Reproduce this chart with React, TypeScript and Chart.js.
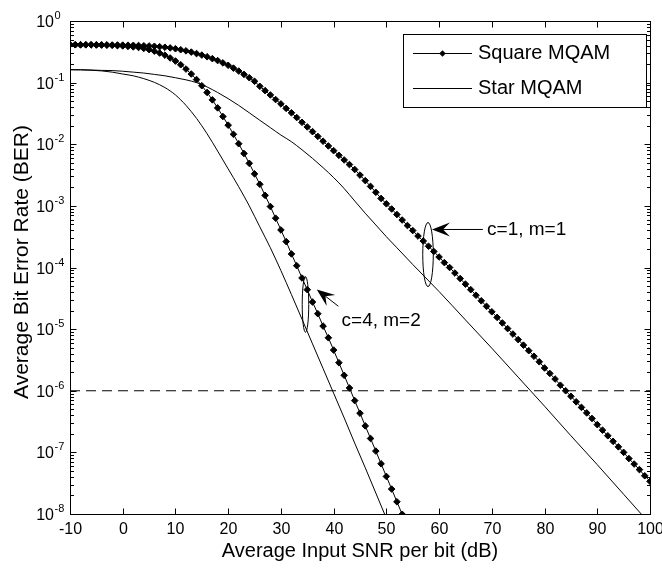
import React, { useEffect, useRef } from 'react';
import { Chart, registerables } from 'chart.js';

Chart.register(...registerables);

// ---------- data ----------
const squareC1Snr = [
  -10, -9, -8, -7, -6, -5, -4, -3, -2, -1,
  0, 1, 2, 3, 4, 5, 6, 7, 8, 9,
  10, 11, 12, 13, 14, 15, 16, 17, 18, 19,
  20, 21, 22, 23, 24, 25, 26, 27, 28, 29,
  30, 31, 32, 33, 34, 35, 36, 37, 38, 39,
  40, 41, 42, 43, 44, 45, 46, 47, 48, 49,
  50, 51, 52, 53, 54, 55, 56, 57, 58, 59,
  60, 61, 62, 63, 64, 65, 66, 67, 68, 69,
  70, 71, 72, 73, 74, 75, 76, 77, 78, 79,
  80, 81, 82, 83, 84, 85, 86, 87, 88, 89,
  90, 91, 92, 93, 94, 95, 96, 97, 98, 99,
  100,
];
const squareC1Ber = [
  0.412, 0.412, 0.412, 0.411, 0.411, 0.41, 0.41, 0.409, 0.408, 0.407,
  0.406, 0.405, 0.403, 0.4, 0.397, 0.394, 0.389, 0.383, 0.375, 0.366,
  0.355, 0.342, 0.328, 0.313, 0.296, 0.28, 0.263, 0.245, 0.228, 0.209,
  0.191, 0.172, 0.154, 0.136, 0.12, 0.105, 8.71e-2, 7.41e-2, 6.31e-2, 5.31e-2,
  4.52e-2, 3.82e-2, 3.24e-2, 2.71e-2, 2.27e-2, 1.91e-2, 1.6e-2, 1.34e-2, 1.12e-2, 9.38e-3,
  7.87e-3, 6.61e-3, 5.56e-3, 4.68e-3, 3.89e-3, 3.16e-3, 2.57e-3, 2.07e-3, 1.66e-3, 1.32e-3,
  1.08e-3, 8.91e-4, 7.24e-4, 5.89e-4, 4.79e-4, 3.98e-4, 3.24e-4, 2.69e-4, 2.21e-4, 1.82e-4,
  1.48e-4, 1.2e-4, 1.0e-4, 8.13e-5, 6.61e-5, 5.37e-5, 4.37e-5, 3.55e-5, 2.88e-5, 2.34e-5,
  1.91e-5, 1.55e-5, 1.26e-5, 1.02e-5, 8.32e-6, 6.76e-6, 5.5e-6, 4.47e-6, 3.63e-6, 2.95e-6,
  2.34e-6, 1.91e-6, 1.55e-6, 1.23e-6, 1.0e-6, 8.13e-7, 6.61e-7, 5.37e-7, 4.37e-7, 3.55e-7,
  2.82e-7, 2.29e-7, 1.86e-7, 1.51e-7, 1.23e-7, 1.0e-7, 7.94e-8, 6.46e-8, 5.25e-8, 4.17e-8,
  3.39e-8,
];

const squareC4Snr = [
  -10, -9, -8, -7, -6, -5, -4, -3, -2, -1,
  0, 1, 2, 3, 4, 5, 6, 7, 8, 9,
  10, 11, 12, 13, 14, 15, 16, 17, 18, 19,
  20, 21, 22, 23, 24, 25, 26, 27, 28, 29,
  30, 31, 32, 33, 34, 35, 36, 37, 38, 39,
  40, 41, 42, 43, 44, 45, 46, 47, 48, 49,
  50, 51, 52, 53,
];
const squareC4Ber = [
  0.412, 0.412, 0.411, 0.411, 0.41, 0.409, 0.407, 0.406, 0.403, 0.398,
  0.394, 0.387, 0.38, 0.372, 0.359, 0.343, 0.324, 0.302, 0.279, 0.251,
  0.224, 0.195, 0.166, 0.138, 0.112, 8.91e-2, 6.92e-2, 5.25e-2, 3.89e-2, 2.82e-2,
  2.04e-2, 1.45e-2, 1.02e-2, 7.08e-3, 4.9e-3, 3.31e-3, 2.24e-3, 1.48e-3, 9.77e-4, 6.31e-4,
  4.07e-4, 2.63e-4, 1.66e-4, 1.07e-4, 6.76e-5, 4.37e-5, 2.75e-5, 1.78e-5, 1.12e-5, 7.24e-6,
  4.57e-6, 2.85e-6, 1.78e-6, 1.11e-6, 6.92e-7, 4.32e-7, 2.69e-7, 1.68e-7, 1.05e-7, 6.53e-8,
  4.07e-8, 2.54e-8, 1.58e-8, 9.9e-9,
];

const starC1Snr = [
  -10, -8, -6, -4, -2, 0, 2, 4, 6, 8, 10, 12, 14, 16, 18, 20, 22, 24, 26, 28, 30,
  32, 34, 36, 38, 40, 42, 44, 46, 48, 50, 52, 55, 60, 65, 70, 75, 80, 85, 90, 95, 100,
];
const starC1Ber = [
  0.162, 0.162, 0.16, 0.158, 0.157, 0.153, 0.148, 0.143, 0.136, 0.129, 0.12, 0.111, 0.1,
  8.51e-2, 6.92e-2, 5.5e-2, 4.27e-2, 3.24e-2, 2.45e-2, 1.86e-2, 1.41e-2,
  1.1e-2, 8.13e-3, 5.89e-3, 4.17e-3, 2.88e-3, 1.91e-3, 1.2e-3, 7.59e-4, 4.9e-4, 3.16e-4,
  2.09e-4, 1.12e-4, 4.07e-5, 1.41e-5, 4.9e-6, 1.66e-6, 5.62e-7, 1.86e-7, 6.31e-8, 2.09e-8, 6.92e-9,
];

const starC4Snr = [
  -10, -8, -6, -4, -2, 0, 2, 4, 6, 8, 10, 12, 14, 16, 18, 20, 22, 24, 26, 28, 30,
  32, 34, 36, 38, 40, 42, 44, 46, 48, 50,
];
const starC4Ber = [
  0.162, 0.161, 0.159, 0.155, 0.148, 0.138, 0.129, 0.116, 0.101, 8.32e-2, 6.31e-2,
  4.27e-2, 2.63e-2, 1.48e-2, 7.76e-3, 3.98e-3, 2.04e-3, 1.0e-3, 4.57e-4, 2.09e-4, 8.91e-5,
  3.63e-5, 1.45e-5, 5.75e-6, 2.29e-6, 9.12e-7, 3.63e-7, 1.41e-7, 5.62e-8, 2.19e-8, 8.51e-9,
];

const targetSnr = [-10, 100];
const targetBer = [1e-6, 1e-6];

const xTickValues = [-10, 0, 10, 20, 30, 40, 50, 60, 70, 80, 90, 100];
const yDecadeExponents = [0, -1, -2, -3, -4, -5, -6, -7, -8];
const legendLabels = ['Square MQAM', 'Star MQAM'];
const xAxisTitle = 'Average Input SNR per bit (dB)';
const yAxisTitle = 'Average Bit Error Rate (BER)';

// annotation anchors (in data units)
const annotationC1 = {
  label: 'c=1, m=1',
  ellipseSnr: 57.9, ellipseTop: 5.37e-4, ellipseBottom: 4.9e-5, ellipseHalfWidthDb: 1.0,
  arrowFromSnr: 68.3, arrowFromBer: 4.14e-4, arrowToSnr: 58.65, arrowToBer: 4.14e-4,
  textSnr: 69.1, textBer: 4.14e-4,
};
const annotationC4 = {
  label: 'c=4, m=2',
  ellipseSnr: 34.66, ellipseTop: 7.1e-5, ellipseBottom: 8.9e-6, ellipseHalfWidthDb: 0.62,
  arrowFromSnr: 40.9, arrowFromBer: 2.35e-5, arrowToSnr: 36.8, arrowToBer: 4.4e-5,
  textSnr: 41.5, textBer: 1.35e-5,
};

// ---------- helpers ----------
const FONT = '"Liberation Sans", Arial, Helvetica, sans-serif';
const zip = (xs: number[], ys: number[]) => xs.map((x, i) => ({ x, y: ys[i] }));

function drawArrow(ctx: CanvasRenderingContext2D, x1: number, y1: number, x2: number, y2: number) {
  const ang = Math.atan2(y2 - y1, x2 - x1);
  const headLen = 18;
  const headHalf = 7;
  const notch = 11;
  const ux = Math.cos(ang), uy = Math.sin(ang);
  const px = -uy, py = ux;
  ctx.beginPath();
  ctx.moveTo(x1, y1);
  ctx.lineTo(x2 - ux * notch, y2 - uy * notch);
  ctx.stroke();
  ctx.beginPath();
  ctx.moveTo(x2, y2);
  ctx.lineTo(x2 - ux * headLen + px * headHalf, y2 - uy * headLen + py * headHalf);
  ctx.lineTo(x2 - ux * notch, y2 - uy * notch);
  ctx.lineTo(x2 - ux * headLen - px * headHalf, y2 - uy * headLen - py * headHalf);
  ctx.closePath();
  ctx.fill();
}

const decorPlugin = {
  id: 'matlabDecor',
  afterDraw(chart: any) {
    const { ctx, chartArea: a, scales } = chart;
    const xs = scales.x;
    const ys = scales.y;
    ctx.save();
    ctx.strokeStyle = '#000';
    ctx.fillStyle = '#000';
    ctx.lineWidth = 1;

    const L = Math.round(a.left) + 0.5;
    const R = Math.round(a.right) + 0.5;
    const T = Math.round(a.top) + 0.5;
    const B = Math.round(a.bottom) + 0.5;
    const seg = (x1: number, y1: number, x2: number, y2: number) => {
      ctx.beginPath();
      ctx.moveTo(x1, y1);
      ctx.lineTo(x2, y2);
      ctx.stroke();
    };

    // x ticks + labels
    ctx.font = `16px ${FONT}`;
    ctx.textAlign = 'center';
    ctx.textBaseline = 'middle';
    for (const v of xTickValues) {
      const px = Math.round(xs.getPixelForValue(v)) + 0.5;
      seg(px, B, px, B - 6);
      seg(px, T, px, T + 6);
      ctx.fillText(String(v), px, B + 15);
    }

    // y ticks (major + minor) + labels
    for (const e of yDecadeExponents) {
      const py = Math.round(ys.getPixelForValue(Math.pow(10, e))) + 0.5;
      seg(L, py, L + 6, py);
      seg(R, py, R - 6, py);
      if (e > -8) {
        for (let m = 2; m <= 9; m++) {
          const my = Math.round(ys.getPixelForValue(m * Math.pow(10, e - 1))) + 0.5;
          seg(L, my, L + 3.5, my);
          seg(R, my, R - 3.5, my);
        }
      }
      ctx.font = `16px ${FONT}`;
      ctx.textAlign = 'right';
      ctx.textBaseline = 'middle';
      ctx.fillText('10', 54, py + 1);
      ctx.font = `11px ${FONT}`;
      ctx.textAlign = 'left';
      ctx.textBaseline = 'alphabetic';
      ctx.fillText(String(e), 54.5, py - 3);
    }

    // box
    ctx.strokeRect(L, T, R - L, B - T);

    // axis titles
    ctx.font = `20px ${FONT}`;
    ctx.textAlign = 'center';
    ctx.textBaseline = 'middle';
    ctx.fillText(xAxisTitle, (a.left + a.right) / 2, 551);
    ctx.save();
    ctx.translate(22, 262);
    ctx.rotate(-Math.PI / 2);
    ctx.font = `21px ${FONT}`;
    ctx.fillText(yAxisTitle, 0, 0);
    ctx.restore();

    // annotations
    for (const an of [annotationC1, annotationC4]) {
      const cx = xs.getPixelForValue(an.ellipseSnr);
      const top = ys.getPixelForValue(an.ellipseTop);
      const bot = ys.getPixelForValue(an.ellipseBottom);
      const rx = xs.getPixelForValue(an.ellipseSnr + an.ellipseHalfWidthDb) - cx;
      ctx.beginPath();
      ctx.ellipse(cx, (top + bot) / 2, rx, (bot - top) / 2, 0, 0, Math.PI * 2);
      ctx.stroke();
      drawArrow(
        ctx,
        xs.getPixelForValue(an.arrowFromSnr), ys.getPixelForValue(an.arrowFromBer),
        xs.getPixelForValue(an.arrowToSnr), ys.getPixelForValue(an.arrowToBer),
      );
      ctx.font = `19px ${FONT}`;
      ctx.textAlign = 'left';
      ctx.textBaseline = 'middle';
      ctx.fillText(an.label, xs.getPixelForValue(an.textSnr), ys.getPixelForValue(an.textBer));
    }

    // legend
    const lx = 403.5, ly = 34.5, lw = 243, lh = 73;
    ctx.fillStyle = '#fff';
    ctx.fillRect(lx, ly, lw, lh);
    ctx.fillStyle = '#000';
    ctx.strokeRect(lx, ly, lw, lh);
    const rows = [53.5, 88.5];
    seg(413, rows[0], 472, rows[0]);
    ctx.beginPath();
    ctx.moveTo(442.5, rows[0] - 3.3);
    ctx.lineTo(445.8, rows[0]);
    ctx.lineTo(442.5, rows[0] + 3.3);
    ctx.lineTo(439.2, rows[0]);
    ctx.closePath();
    ctx.fill();
    seg(413, rows[1], 472, rows[1]);
    ctx.font = `20px ${FONT}`;
    ctx.textAlign = 'left';
    ctx.textBaseline = 'middle';
    ctx.fillText(legendLabels[0], 478, rows[0]);
    ctx.fillText(legendLabels[1], 478, rows[1]);

    ctx.restore();
  },
};

export default function App() {
  const canvasRef = useRef<HTMLCanvasElement | null>(null);

  useEffect(() => {
    if (!canvasRef.current) return;
    const markerCurve = {
      borderColor: '#000',
      borderWidth: 1,
      pointStyle: 'rectRot',
      pointRadius: 3.3,
      pointBackgroundColor: '#000',
      pointBorderColor: '#000',
      pointBorderWidth: 1,
      tension: 0,
      clip: 0,
      fill: false,
    };
    const thinCurve = {
      borderColor: '#000',
      borderWidth: 1,
      pointRadius: 0,
      cubicInterpolationMode: 'monotone',
      clip: 0,
      fill: false,
    };
    const chart = new Chart(canvasRef.current, {
      type: 'line',
      data: {
        datasets: [
          { label: 'Square MQAM c=1 m=1', data: zip(squareC1Snr, squareC1Ber), ...markerCurve },
          { label: 'Square MQAM c=4 m=2', data: zip(squareC4Snr, squareC4Ber), ...markerCurve },
          { label: 'Star MQAM c=1 m=1', data: zip(starC1Snr, starC1Ber), ...thinCurve },
          { label: 'Star MQAM c=4 m=2', data: zip(starC4Snr, starC4Ber), ...thinCurve },
          {
            label: 'BER target',
            data: zip(targetSnr, targetBer),
            borderColor: '#000',
            borderWidth: 1,
            borderDash: [10, 6],
            pointRadius: 0,
            clip: 0,
            fill: false,
          },
        ] as any,
      },
      options: {
        animation: false,
        responsive: false,
        events: [],
        layout: { autoPadding: false, padding: { left: 70, right: 12, top: 21, bottom: 54 } },
        plugins: { legend: { display: false }, tooltip: { enabled: false } },
        scales: {
          x: { type: 'linear', min: -10, max: 100, display: false },
          y: { type: 'logarithmic', min: 1e-8, max: 1, display: false },
        },
      } as any,
      plugins: [decorPlugin],
    });
    return () => chart.destroy();
  }, []);

  return (
    <div style={{ position: 'absolute', left: 0, top: 0, width: 662, height: 568, background: '#fff' }}>
      <canvas ref={canvasRef} width={662} height={568} style={{ display: 'block' }} />
    </div>
  );
}
